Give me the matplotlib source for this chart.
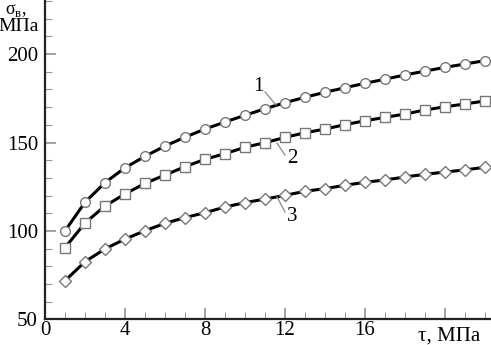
import matplotlib
matplotlib.use("Agg")
import matplotlib.pyplot as plt
from matplotlib.ticker import MultipleLocator

x = list(range(1, 23))
curve1 = [100.0, 116.2, 127.3, 135.7, 142.2, 148.0, 153.0, 157.6, 161.6, 165.4, 169.1,
          172.5, 175.6, 178.4, 181.0, 183.5, 185.8, 188.2, 190.4, 192.5, 194.4, 196.3]
curve2 = [90.5, 104.5, 114.1, 120.9, 126.9, 131.6, 136.3, 140.5, 143.7, 147.3, 149.9,
          152.9, 155.5, 157.6, 160.1, 162.3, 164.2, 166.1, 168.4, 170.2, 171.8, 173.5]
curve3 = [71.8, 82.6, 89.8, 95.4, 100.1, 104.3, 107.5, 110.3, 113.5, 116.0, 118.0,
          120.1, 122.4, 123.9, 125.8, 127.5, 128.8, 130.5, 132.0, 133.3, 134.5, 136.0]
xticks = [0, 4, 8, 12, 16]
yticks = [50, 100, 150, 200]

plt.rcParams['font.family'] = ['Liberation Serif', 'DejaVu Serif']
plt.rcParams['mathtext.fontset'] = 'custom'
plt.rcParams['mathtext.rm'] = 'Liberation Serif'
fig = plt.figure(figsize=(4.91, 3.45), dpi=100)
ax = fig.add_axes([45/491, 25.7/345, 445/491, 319.3/345])

mk = dict(markerfacecolor='white', markeredgecolor='#777777', markeredgewidth=1.0,
          color='black', lw=2.2)
ax.plot(x, curve1, marker='o', markersize=7, **mk)
ax.plot(x, curve2, marker='s', markersize=6.5, **mk)
ax.plot(x, curve3, marker='D', markersize=6, **mk)

ax.set_xlim(0, 22.25)
ax.set_ylim(50, 230.6)
for s in ['top', 'right']:
    ax.spines[s].set_visible(False)
for s in ['left', 'bottom']:
    ax.spines[s].set_linewidth(1.6)
    ax.spines[s].set_color('#222222')

ax.set_xticks(xticks + [20])
ax.set_xticklabels([str(t) for t in xticks] + [''])
ax.xaxis.set_minor_locator(MultipleLocator(1))
ax.set_yticks(yticks)
ax.set_yticklabels([str(t) for t in yticks])
ax.yaxis.set_minor_locator(MultipleLocator(10))
ax.tick_params(which='major', direction='in', length=8, width=1.1, color='#888888',
               labelsize=15, pad=1)
ax.tick_params(which='minor', direction='in', length=5, width=0.8, color='#999999')
ax.tick_params(axis='y', pad=5)

ax.text(20.2, 45.8, 'τ, МПа', ha='center', va='top', fontsize=15)
ax.text(-0.3, 215.5, 'МПа', ha='right', va='center', fontsize=14)
ax.text(-0.9, 224.5, r'σ$_{\mathrm{в}}$,', ha='right', va='center', fontsize=13)

# curve labels with leader lines
lc = '#888888'
ax.plot([11.0, 11.55], [178.6, 171.2], color=lc, lw=0.9)
ax.text(10.65, 181.4, '1', fontsize=15, ha='center', va='center')
ax.plot([11.6, 12.0], [149.7, 142.9], color=lc, lw=0.9)
ax.text(12.35, 140.7, '2', fontsize=15, ha='center', va='center')
ax.plot([11.6, 12.0], [119.2, 110.7], color=lc, lw=0.9)
ax.text(12.35, 107.9, '3', fontsize=15, ha='center', va='center')

fig.savefig('out.png', dpi=100)
